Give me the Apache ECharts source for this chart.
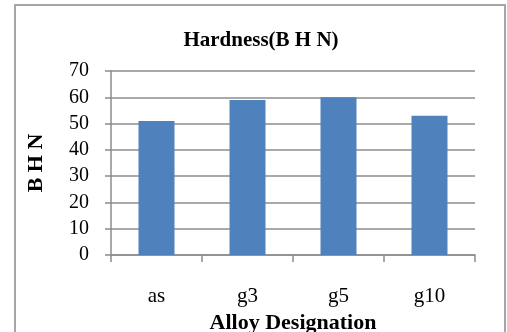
<!DOCTYPE html>
<html>
<head>
<meta charset="utf-8">
<script src="https://cdn.jsdelivr.net/npm/echarts@6/dist/echarts.min.js"></script>
<style>html,body{margin:0;padding:0;background:#fff;}#c{width:507px;height:332px;}</style>
</head>
<body>
<div id="c"></div>
<script>
const categories = ['as', 'g3', 'g5', 'g10'];
const hardness = [51, 59, 60, 53];
const yTicks = [0, 10, 20, 30, 40, 50, 60, 70];

const serif = '"Liberation Serif", "Times New Roman", serif';
const chart = echarts.init(document.getElementById('c'), null, {renderer: 'canvas'});
chart.setOption({
  animation: false,
  backgroundColor: '#fff',
  graphic: [{
    type: 'rect', silent: true,
    shape: {x: 15, y: 5, width: 490, height: 345},
    style: {fill: 'none', stroke: '#a6a6a6', lineWidth: 2}
  }],
  title: {
    text: 'Hardness(B H N)', left: 256, top: 25, textAlign: 'center',
    textStyle: {fontFamily: serif, fontWeight: 'bold', fontSize: 21, color: '#000'}
  },
  grid: {left: 111, right: 32, top: 71, bottom: 77, containLabel: false, outerBoundsMode: 'none'},
  xAxis: {
    type: 'category', data: categories,
    name: 'Alloy Designation', nameLocation: 'middle', nameGap: 47,
    nameTextStyle: {fontFamily: serif, fontWeight: 'bold', fontSize: 22, color: '#000'},
    axisLine: {show: true, lineStyle: {color: '#8c8c8c', width: 1.5}},
    axisTick: {show: true, alignWithLabel: false, length: 7, lineStyle: {color: '#8c8c8c', width: 1.5}},
    axisLabel: {margin: 31, fontFamily: serif, fontSize: 21, color: '#000'}
  },
  yAxis: {
    type: 'value', min: yTicks[0], max: yTicks[yTicks.length - 1], interval: 10,
    name: 'B H N', nameLocation: 'middle', nameGap: 64,
    nameTextStyle: {fontFamily: serif, fontWeight: 'bold', fontSize: 22, color: '#000'},
    axisLine: {show: true, lineStyle: {color: '#8c8c8c', width: 1.5}},
    axisTick: {show: true, length: 6, lineStyle: {color: '#8c8c8c', width: 1.5}},
    splitLine: {show: true, lineStyle: {color: '#8c8c8c', width: 1.5}},
    axisLabel: {margin: 22, fontFamily: serif, fontSize: 20, color: '#000'}
  },
  series: [{
    type: 'bar', data: hardness, barWidth: 36,
    itemStyle: {color: '#4f81bd'}
  }]
});
</script>
</body>
</html>
